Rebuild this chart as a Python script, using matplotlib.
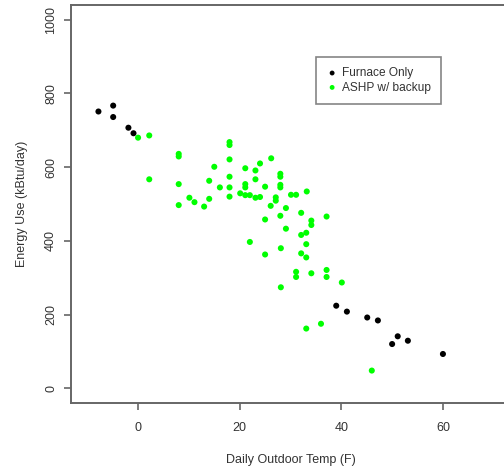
import matplotlib
matplotlib.use("Agg")
import matplotlib.pyplot as plt

plt.rcParams['font.family'] = ['Liberation Sans', 'DejaVu Sans']

furnace_temp = [-7.8, -4.9, -4.9, -1.9, -0.9, 39.0, 41.1, 45.1, 47.2, 51.1, 53.1, 50.0, 60.0]
furnace_energy = [751, 767, 736, 707, 692, 224, 208, 192, 184, 141, 129, 120, 93]

ashp_temp = [0.0, 2.2, 2.2, 8.0, 8.0, 8.0, 8.0, 10.1, 11.1, 13.0, 14.0, 14.0, 15.0, 16.1,
             18.0, 18.0, 18.0, 18.0, 18.0, 18.0, 20.1, 21.1, 22.0, 21.1, 21.1, 21.1,
             23.1, 23.1, 23.1, 24.0, 24.0, 25.0, 26.2, 25.0, 26.1, 27.1, 27.1,
             28.0, 28.0, 28.0, 28.0, 28.0, 29.1, 29.1, 30.1, 31.1, 32.1, 33.2, 34.1, 34.1,
             32.1, 33.1, 33.1, 32.1, 33.1, 37.1, 22.0, 25.0, 28.1, 31.1, 31.1, 34.1,
             37.1, 37.1, 40.1, 28.1, 33.1, 36.0, 46.0]
ashp_energy = [680, 686, 567, 636, 629, 554, 497, 517, 505, 493, 514, 563, 601, 545,
               668, 660, 621, 574, 545, 520, 529, 524, 524, 597, 554, 545,
               591, 567, 517, 519, 610, 547, 624, 458, 495, 518, 509,
               582, 574, 552, 545, 468, 489, 433, 525, 525, 476, 534, 455, 443,
               416, 422, 391, 366, 355, 466, 397, 363, 380, 316, 302, 312,
               321, 302, 287, 274, 162, 175, 48]

x_ticks = [0, 20, 40, 60]
y_ticks = [0, 200, 400, 600, 800, 1000]
series_labels = ["Furnace Only", "ASHP w/ backup"]

fig = plt.figure(figsize=(5.04, 4.70), dpi=100)
ax = fig.add_axes([71/504, 67/470, 439/504, 398/470])

gray = '#666666'
txt = '#333333'
ax.scatter(furnace_temp, furnace_energy, s=19, color='black', edgecolors='none',
           label=series_labels[0], zorder=3)
ax.scatter(ashp_temp, ashp_energy, s=19, color='#00FF00', edgecolors='none',
           label=series_labels[1], zorder=3)

ax.set_xlim(-13.2, 73.2)
ax.set_ylim(-40, 1040)
ax.set_xticks(x_ticks)
ax.set_yticks(y_ticks)
ax.set_yticklabels([str(v) for v in y_ticks], rotation=90, va='center')
for s in ax.spines.values():
    s.set_color(gray)
    s.set_linewidth(1.4)
ax.tick_params(axis='both', colors=gray, labelcolor=txt, labelsize=9,
               length=5, width=1.2, direction='out')
ax.tick_params(axis='x', pad=9)
ax.tick_params(axis='y', pad=5)

ax.set_xlabel("Daily Outdoor Temp (F)", fontsize=9, color=txt, labelpad=14)
ax.set_ylabel("Energy Use (kBtu/day)", fontsize=9, color=txt, labelpad=12)

leg = ax.legend(loc='upper left', bbox_to_anchor=(316/504, 1 - 57/470),
                bbox_transform=fig.transFigure, fontsize=8.6, frameon=True,
                fancybox=False, borderpad=0.85, handletextpad=0.3,
                handlelength=1.0, labelspacing=0.2, borderaxespad=0,
                markerscale=0.8)
leg.get_frame().set_edgecolor(gray)
leg.get_frame().set_linewidth(1.2)
for t in leg.get_texts():
    t.set_color(txt)

fig.savefig("out.png", dpi=100)
